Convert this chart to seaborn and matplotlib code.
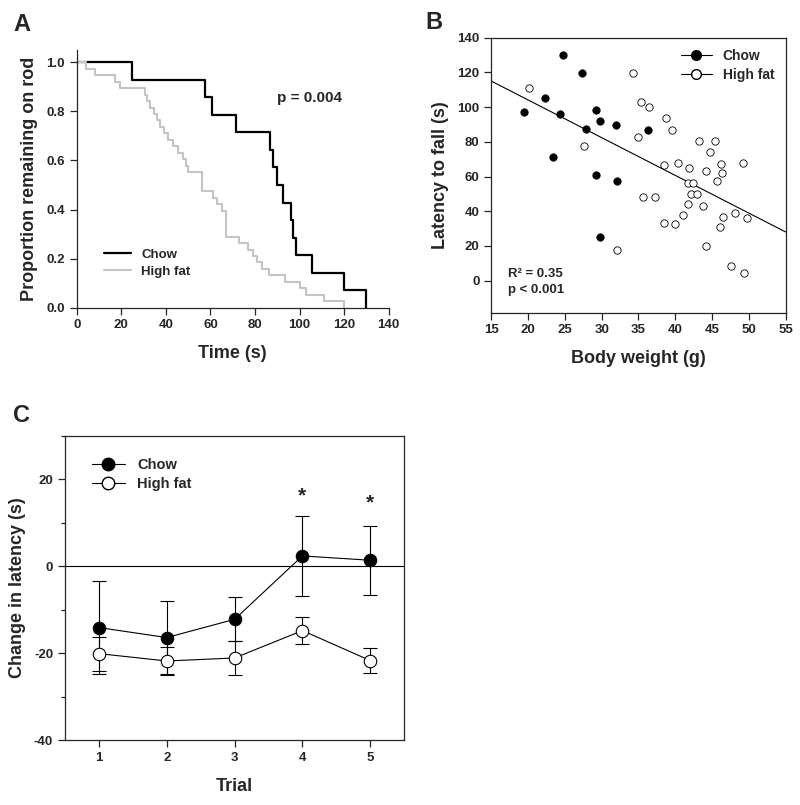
import numpy as np
import matplotlib
matplotlib.use("Agg")
import matplotlib.pyplot as plt
from matplotlib.lines import Line2D
from matplotlib.ticker import MultipleLocator, FormatStrFormatter
import seaborn as sns

# Panel A - time to fall (s) for each mouse, no censoring
chow_times = [25, 57.7, 60.8, 71.6, 86.7, 87.9, 89.7, 92.4, 96.1, 97.2, 98.4, 105.4, 120, 130]
hf_times = [4.2, 8.2, 17.2, 19.6, 30.5, 31.5, 33, 34.5, 36, 37.5, 39, 41, 43, 45.5, 47.5,
            49, 50, 56, 56, 56, 61, 63, 65, 67, 67, 67, 67, 73, 77, 79, 80.7, 83, 86.4,
            93.4, 100, 103, 111, 120]

# Panel B - body weight (g) vs latency to fall (s)
chow_weight = [19.4, 22.3, 24.7, 24.4, 23.4, 27.3, 27.9, 29.3, 29.8, 31.9, 29.3, 32.1, 36.3, 29.8]
chow_latency = [97.0, 105.1, 129.8, 96.0, 71.4, 119.8, 87.6, 98.3, 92.2, 89.7, 61.1, 57.6, 86.6, 25.0]
hf_weight = [20.2, 27.6, 32.1, 34.3, 35.4, 36.4, 35.0, 35.6, 37.2, 38.8, 39.6, 38.5, 38.5,
             40.0, 40.4, 41.0, 41.9, 41.7, 42.4, 42.2, 43.0, 41.8, 43.3, 44.2, 43.8, 44.7,
             45.4, 45.7, 46.2, 46.3, 46.5, 46.1, 44.2, 48.1, 49.2, 49.7, 47.6, 49.3]
hf_latency = [110.8, 77.6, 17.5, 119.5, 103.1, 100.2, 83.0, 48.0, 48.0, 93.5, 86.6, 66.8, 33.0,
              32.6, 67.6, 37.8, 65.1, 56.1, 56.1, 49.9, 49.9, 44.0, 80.7, 63.0, 43.0, 73.9,
              80.7, 57.2, 67.0, 61.8, 36.9, 30.7, 19.8, 39.2, 67.6, 36.1, 8.5, 4.6]

# Panel C - change in latency per trial (mean, SE)
trials = [1, 2, 3, 4, 5]
chow_mean = [-14.1, -16.4, -12.2, 2.4, 1.4]
chow_se = [10.7, 8.4, 5.1, 9.2, 8.0]
hf_mean = [-20.1, -21.8, -21.1, -14.8, -21.7]
hf_se = [3.9, 3.3, 4.0, 3.1, 2.8]
star_trials = [4, 5]
star_y = [16.2, 14.7]


def survival_steps(times):
    # Kaplan-Meier without censoring: drops 1/n at each event time
    t = np.sort(np.asarray(times, dtype=float))
    n = len(t)
    x = np.concatenate([[0.0], t])
    y = 1.0 - np.arange(n + 1) / n
    return x, y


sns.set_style("ticks")
plt.rcParams['font.family'] = ['Liberation Sans', 'DejaVu Sans']
plt.rcParams['font.weight'] = 'bold'
plt.rcParams['axes.labelweight'] = 'bold'
plt.rcParams['axes.unicode_minus'] = False
plt.rcParams['axes.linewidth'] = 0.9
plt.rcParams['xtick.major.width'] = 0.9
plt.rcParams['ytick.major.width'] = 0.9
plt.rcParams['xtick.major.size'] = 5
plt.rcParams['ytick.major.size'] = 5
plt.rcParams['xtick.labelsize'] = 9.5
plt.rcParams['ytick.labelsize'] = 9.5

fig = plt.figure(figsize=(8, 8.05), dpi=100)

# ---------- Panel A ----------
ax_a = fig.add_axes([0.0959, 0.6178, 0.390, 0.320])
cx, cy = survival_steps(chow_times)
hx, hy = survival_steps(hf_times)
sns.lineplot(x=cx, y=cy, drawstyle='steps-post', estimator=None, sort=False,
             color='black', lw=1.6, ax=ax_a)
sns.lineplot(x=hx, y=hy, drawstyle='steps-post', estimator=None, sort=False,
             color='#c4c4c4', lw=1.5, ax=ax_a)
ax_a.set_xlim(0, 140)
ax_a.set_ylim(0, 1.05)
ax_a.set_xticks(np.arange(0, 141, 20))
ax_a.set_yticks(np.arange(0, 1.01, 0.2))
ax_a.yaxis.set_major_formatter(FormatStrFormatter('%.1f'))
sns.despine(ax=ax_a)
ax_a.set_xlabel("Time (s)", fontsize=13, labelpad=10)
ax_a.set_ylabel("Proportion remaining on rod", fontsize=13, labelpad=6)
ax_a.text(89.8, 0.856, "p = 0.004", fontsize=11, fontweight='bold', va='center')
handles_a = [Line2D([], [], color='black', lw=1.6), Line2D([], [], color='#c4c4c4', lw=1.5)]
ax_a.legend(handles_a, ["Chow", "High fat"], loc='lower left', bbox_to_anchor=(0.05, 0.07),
            frameon=False, fontsize=9.5, handlelength=2.0, labelspacing=0.35)

# ---------- Panel B ----------
ax_b = fig.add_axes([0.614, 0.6116, 0.368, 0.3416])
ax_b.set_xlim(15, 55)
ax_b.set_ylim(-18.4, 140)
all_w = np.array(chow_weight + hf_weight)
all_l = np.array(chow_latency + hf_latency)
sns.regplot(x=all_w, y=all_l, scatter=False, ci=None, truncate=False,
            line_kws=dict(color='black', lw=0.8), ax=ax_b)
sns.scatterplot(x=chow_weight, y=chow_latency, color='black', edgecolor='black',
                s=28, linewidth=0.6, ax=ax_b, zorder=3)
sns.scatterplot(x=hf_weight, y=hf_latency, color='white', edgecolor='black',
                s=28, linewidth=0.6, ax=ax_b, zorder=3)
ax_b.set_xlim(15, 55)
ax_b.set_ylim(-18.4, 140)
ax_b.set_xticks(np.arange(15, 56, 5))
ax_b.set_yticks(np.arange(0, 141, 20))
ax_b.set_xlabel("Body weight (g)", fontsize=13, labelpad=10)
ax_b.set_ylabel("Latency to fall (s)", fontsize=13, labelpad=6)
ax_b.text(17.3, 3.6, "R² = 0.35", fontsize=9.5, fontweight='bold', va='center')
ax_b.text(17.3, -5.3, "p < 0.001", fontsize=9.5, fontweight='bold', va='center')
handles_b = [Line2D([], [], color='black', lw=0.8, marker='o', markersize=7,
                    markerfacecolor='black', markeredgecolor='black'),
             Line2D([], [], color='black', lw=0.8, marker='o', markersize=7,
                    markerfacecolor='white', markeredgecolor='black')]
ax_b.legend(handles_b, ["Chow", "High fat"], loc='upper right', frameon=False,
            fontsize=10, handlelength=2.2, labelspacing=0.4, borderaxespad=0.4)

# ---------- Panel C ----------
ax_c = fig.add_axes([0.08125, 0.0807, 0.424, 0.3776])
ax_c.axhline(0, color='black', lw=0.8, zorder=1)
ax_c.errorbar(trials, chow_mean, yerr=chow_se, fmt='none', ecolor='black',
              elinewidth=0.8, capsize=4.7, capthick=0.8, zorder=2)
ax_c.errorbar(trials, hf_mean, yerr=hf_se, fmt='none', ecolor='black',
              elinewidth=0.8, capsize=4.7, capthick=0.8, zorder=2)
sns.lineplot(x=trials, y=chow_mean, color='black', lw=0.8, marker='o', markersize=9,
             markerfacecolor='black', markeredgecolor='black', ax=ax_c, zorder=3)
sns.lineplot(x=trials, y=hf_mean, color='black', lw=0.8, marker='o', markersize=9,
             markerfacecolor='white', markeredgecolor='black', markeredgewidth=0.8,
             ax=ax_c, zorder=3)
for t, yv in zip(star_trials, star_y):
    ax_c.text(t, yv, "*", fontsize=15, fontweight='bold', ha='center', va='center')
ax_c.set_xlim(0.5, 5.5)
ax_c.set_ylim(-40, 30)
ax_c.set_xticks(trials)
ax_c.set_yticks([-40, -20, 0, 20])
ax_c.yaxis.set_minor_locator(MultipleLocator(10))
ax_c.tick_params(axis='y', which='minor', length=3, width=0.9)
ax_c.set_xlabel("Trial", fontsize=13, labelpad=10)
ax_c.set_ylabel("Change in latency (s)", fontsize=13, labelpad=6)
handles_c = [Line2D([], [], color='black', lw=0.8, marker='o', markersize=9,
                    markerfacecolor='black', markeredgecolor='black'),
             Line2D([], [], color='black', lw=0.8, marker='o', markersize=9,
                    markerfacecolor='white', markeredgecolor='black')]
ax_c.legend(handles_c, ["Chow", "High fat"], loc='upper left', frameon=False,
            fontsize=10.5, handlelength=2.3, labelspacing=0.35,
            bbox_to_anchor=(0.04, 0.97))

# panel letters
fig.text(13 / 800, 1 - 31 / 805, "A", fontsize=17, fontweight='bold')
fig.text(425 / 800, 1 - 29 / 805, "B", fontsize=17, fontweight='bold')
fig.text(13 / 800, 1 - 422 / 805, "C", fontsize=17, fontweight='bold')

fig.savefig("out.png", dpi=100)
